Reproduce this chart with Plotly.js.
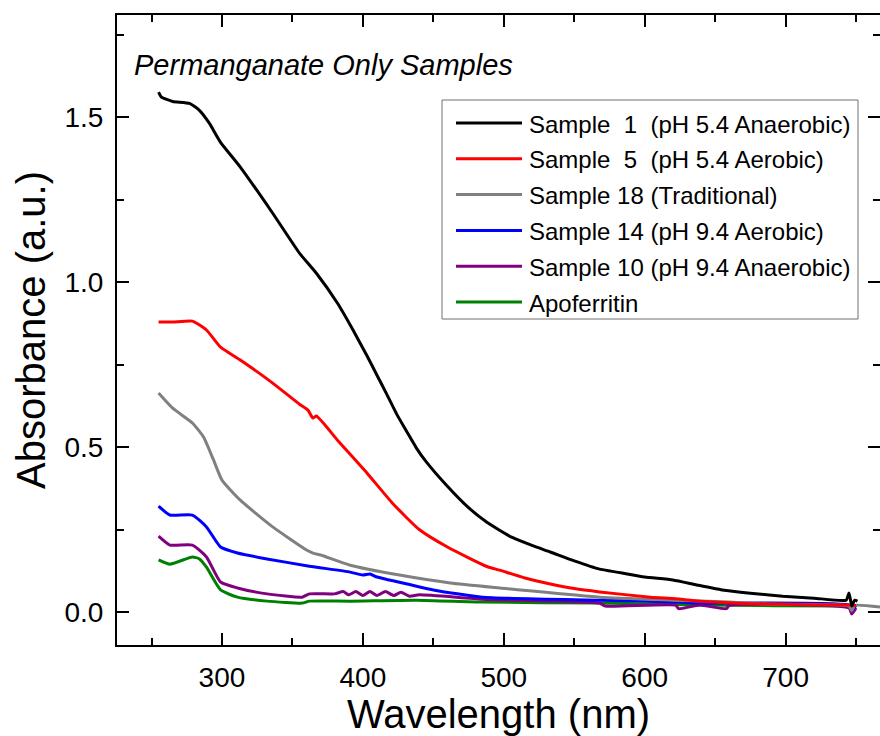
<!DOCTYPE html>
<html>
<head>
<meta charset="utf-8">
<script src="https://cdn.plot.ly/plotly-3.0.1.min.js"></script>
<style>html,body{margin:0;padding:0;background:#fff;}</style>
</head>
<body>
<div id="chart" style="width:880px;height:736px;"></div>
<script>
// ---- Data (wavelength in nm, absorbance in a.u.) ----
const wlS1  = [255,257,265,277,284,291,299,313,336,355,367,382,393,403,410,417,424,431,438,445,460,474,488,497,506,520,533,550,568,576,584,600,620,637,655,675,698,720,743,745,747,749,751];
const absS1 = [1.576,1.561,1.548,1.542,1.521,1.482,1.424,1.349,1.209,1.088,1.027,0.936,0.855,0.776,0.718,0.660,0.600,0.548,0.497,0.455,0.381,0.320,0.272,0.248,0.226,0.202,0.182,0.155,0.130,0.124,0.118,0.106,0.097,0.082,0.067,0.057,0.048,0.042,0.036,0.058,0.018,0.036,0.033];

const wlS5  = [255,265,279,289,299,313,336,355,361,364.5,367,382,403,421,440,460,488,497,515,533,550,568,604,622,639,687,745,750];
const absS5 = [0.879,0.879,0.882,0.855,0.803,0.764,0.694,0.630,0.612,0.588,0.594,0.521,0.421,0.330,0.250,0.197,0.138,0.127,0.103,0.085,0.071,0.061,0.045,0.040,0.033,0.024,0.021,0.020];

const wlS18  = [255,265,279,287,294,300,313,336,360,365,370,391,426,462,497,568,620,660,687,745,747,749,767];
const absS18 = [0.664,0.618,0.573,0.530,0.461,0.400,0.339,0.258,0.188,0.178,0.173,0.142,0.112,0.088,0.073,0.045,0.036,0.030,0.024,0.018,0.004,0.020,0.015];

const wlS14  = [255,263,279,289,299,311,332,362,391,400,405,410,419,450,485,568,622,639,745,747,750];
const absS14 = [0.321,0.294,0.294,0.258,0.197,0.179,0.161,0.139,0.121,0.112,0.115,0.106,0.097,0.067,0.045,0.036,0.030,0.027,0.021,0.005,0.020];

const wlS10  = [255,263,279,289,299,311,332,357,362,380,386,390,395,400,405,410,416,422,427,433,440,485,568,572,622,624,639,658,660,745,747,750];
const absS10 = [0.230,0.203,0.203,0.167,0.091,0.073,0.055,0.045,0.055,0.055,0.062,0.052,0.062,0.050,0.062,0.050,0.062,0.050,0.060,0.048,0.052,0.039,0.027,0.018,0.021,0.010,0.021,0.010,0.020,0.012,-0.006,0.012];

const wlApo  = [255,263,279,284,289,299,311,332,357,362,391,438,485,568,639,745,750];
const absApo = [0.158,0.145,0.167,0.161,0.136,0.067,0.045,0.033,0.027,0.033,0.033,0.036,0.030,0.027,0.021,0.018,0.018];

const seriesNames = [
  "Sample\u00a0\u00a01\u00a0\u00a0(pH 5.4 Anaerobic)",
  "Sample\u00a0\u00a05\u00a0\u00a0(pH 5.4 Aerobic)",
  "Sample 18 (Traditional)",
  "Sample 14 (pH 9.4 Aerobic)",
  "Sample 10 (pH 9.4 Anaerobic)",
  "Apoferritin"
];
const seriesX = [wlS1, wlS5, wlS18, wlS14, wlS10, wlApo];
const seriesY = [absS1, absS5, absS18, absS14, absS10, absApo];
const seriesColors = ["#000000", "#ff0000", "#808080", "#0000ff", "#800080", "#008000"];

const xTicks = [300, 400, 500, 600, 700];
const yTicks = [0.0, 0.5, 1.0, 1.5];
const chartTitle = "Permanganate Only Samples";

// ---- Build the figure ----
const FONT = "Liberation Sans, Arial, Helvetica, sans-serif";
const traces = seriesX.map((x, i) => ({
  type: "scatter", mode: "lines", x: x, y: seriesY[i],
  name: seriesNames[i], showlegend: false,
  line: {color: seriesColors[i], width: 3, shape: "spline", smoothing: 0.5}
}));
// draw order: background curves first, black on top
const drawOrder = [5, 4, 3, 2, 1, 0];
const data = drawOrder.map(i => traces[i]);

// custom legend (box + sample lines + labels), placed in paper coordinates
const W = 880, H = 736, mL = 117, mR = 0, mT = 15, mB = 91;
const pw = W - mL - mR, ph = H - mT - mB;
const px2x = p => (p - mL) / pw;
const py2y = p => (H - mB - p) / ph;

const shapes = [{
  type: "rect", xref: "paper", yref: "paper",
  x0: px2x(442), x1: px2x(858), y0: py2y(319), y1: py2y(100),
  line: {color: "#707070", width: 1}, fillcolor: "rgba(255,255,255,1)", layer: "above"
}];
const annotations = [{
  xref: "paper", yref: "paper", x: px2x(132), y: py2y(65), xanchor: "left", yanchor: "middle",
  text: "<i>" + chartTitle + "</i>", showarrow: false,
  font: {family: FONT, size: 29, color: "#000"}
}];
const rowTop = 123, rowStep = 35.8;
seriesNames.forEach((nm, i) => {
  const yy = py2y(rowTop + i * rowStep);
  shapes.push({type: "line", xref: "paper", yref: "paper", x0: px2x(456), x1: px2x(522), y0: yy, y1: yy,
    line: {color: seriesColors[i], width: 3}, layer: "above"});
  annotations.push({xref: "paper", yref: "paper", x: px2x(527), y: py2y(rowTop + i * rowStep + 1),
    xanchor: "left", yanchor: "middle", text: nm, showarrow: false,
    font: {family: FONT, size: 24, color: "#000"}});
});

const axisCommon = {
  showline: true, linecolor: "#000", linewidth: 2, mirror: "ticks",
  ticks: "inside", ticklen: 12, tickwidth: 2, tickcolor: "#000",
  showgrid: false, zeroline: false,
  tickfont: {family: FONT, size: 28, color: "#000"}
};
const layout = {
  width: W, height: H,
  margin: {l: mL, r: mR, t: mT, b: mB, pad: 0},
  paper_bgcolor: "#fff", plot_bgcolor: "#fff",
  showlegend: false,
  xaxis: Object.assign({}, axisCommon, {
    range: [225.5, 767], tickmode: "array", tickvals: xTicks, ticktext: xTicks.map(String),
    minor: {ticks: "inside", ticklen: 7, tickwidth: 2, tickcolor: "#000", dtick: 50, tick0: 0},
    ticklabelstandoff: 6,
    title: {text: "Wavelength (nm)", font: {family: FONT, size: 40, color: "#000"}, standoff: 2}
  }),
  yaxis: Object.assign({}, axisCommon, {
    range: [-0.1, 1.81], tickmode: "array", tickvals: yTicks, ticktext: yTicks.map(v => v.toFixed(1)),
    minor: {ticks: "inside", ticklen: 7, tickwidth: 2, tickcolor: "#000", dtick: 0.25, tick0: 0},
    ticklabelstandoff: 6,
    title: {text: "Absorbance (a.u.)", font: {family: FONT, size: 40, color: "#000"}, standoff: 6}
  }),
  shapes: shapes,
  annotations: annotations
};
Plotly.newPlot("chart", data, layout, {displayModeBar: false, staticPlot: true});
</script>
</body>
</html>
